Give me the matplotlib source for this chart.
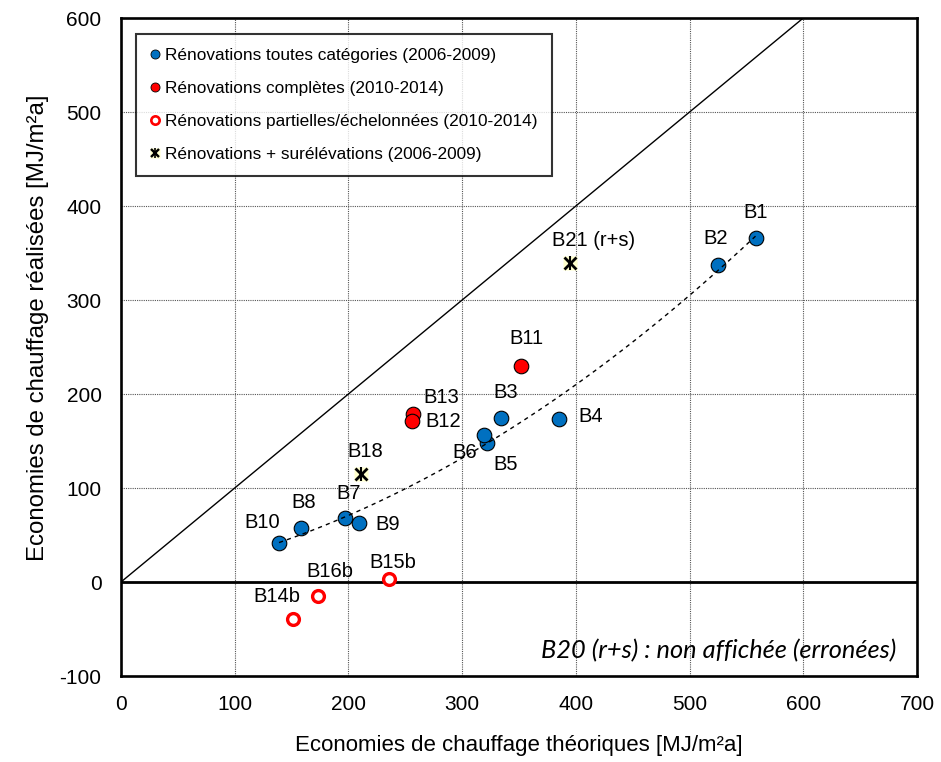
import numpy as np
import matplotlib
matplotlib.use("Agg")
import matplotlib.pyplot as plt
from matplotlib.lines import Line2D

# ---- data ----
blue_names = ["B1", "B2", "B3", "B4", "B5", "B6", "B7", "B8", "B9", "B10"]
blue_x = [558, 525, 334, 385, 322, 319, 197, 158, 209, 139]
blue_y = [366, 337, 174, 173, 148, 156, 68, 57, 63, 41]

red_names = ["B11", "B13", "B12"]
red_x = [352, 257, 256]
red_y = [230, 179, 171]

open_names = ["B15b", "B16b", "B14b"]
open_x = [236, 173, 151]
open_y = [3, -15, -39]

star_names = ["B21 (r+s)", "B18"]
star_x = [395, 211]
star_y = [339, 115]

legend_labels = [
    "Rénovations toutes catégories (2006-2009)",
    "Rénovations complètes (2010-2014)",
    "Rénovations partielles/échelonnées (2010-2014)",
    "Rénovations + surélévations (2006-2009)",
]
x_ticks = [0, 100, 200, 300, 400, 500, 600, 700]
y_ticks = [-100, 0, 100, 200, 300, 400, 500, 600]
note = "B20 (r+s) : non affichée (erronées)"

# label offsets in pixels (dx right, dy down)
label_off = {
    "B1": (0, -25), "B2": (-2, -27), "B3": (5, -26), "B4": (32, -3),
    "B5": (18, 22), "B6": (-19, 17), "B7": (4, -25), "B8": (3, -26),
    "B9": (29, 2), "B10": (-17, -21), "B11": (5, -27), "B13": (28, -16),
    "B12": (31, 0), "B15b": (3, -17), "B16b": (12, -25), "B14b": (-16, -22),
    "B21 (r+s)": (23, -23), "B18": (4, -22),
}

BLUE = "#0070C0"
RED = "#FF0000"
YEL = "#FFFFCC"
FONT = "Liberation Sans"
plt.rcParams["font.family"] = [FONT, "DejaVu Sans"]
plt.rcParams["axes.unicode_minus"] = False

fig = plt.figure(figsize=(9.41, 7.62), dpi=100)
ax = fig.add_axes([121 / 941, 1 - 676 / 762, (917 - 121) / 941, (676 - 18) / 762])
ax.set_xlim(0, 700)
ax.set_ylim(-100, 600)
ax.set_xticks(x_ticks)
ax.set_yticks(y_ticks)
ax.tick_params(length=0, labelsize=15, pad=14)
ax.grid(True, color="#555555", linestyle=(0, (1, 1)), linewidth=0.8)
ax.set_axisbelow(True)
for s in ax.spines.values():
    s.set_linewidth(1.9)

ax.axhline(0, color="black", linewidth=2.0, zorder=2)
ax.plot([0, 600], [0, 600], color="black", linewidth=1.0, zorder=2)

# trend (quadratic fit of blue points)
coef = np.polyfit(blue_x, blue_y, 2)
xx = np.linspace(min(blue_x), max(blue_x), 200)
ax.plot(xx, np.polyval(coef, xx), color="black", linestyle=(0, (3, 3)),
        linewidth=1.0, zorder=4)

ax.plot(blue_x, blue_y, "o", ms=10.5, mfc=BLUE, mec="black", mew=0.8,
        linestyle="none", zorder=3)
ax.plot(red_x, red_y, "o", ms=10.5, mfc=RED, mec="black", mew=0.8,
        linestyle="none", zorder=3)
ax.plot(open_x, open_y, "o", ms=8.5, mfc="white", mec=RED, mew=2.4,
        linestyle="none", zorder=3)
ax.plot(star_x, star_y, "s", ms=10.5, mfc=YEL, mec="none", linestyle="none", zorder=3)
ax.plot(star_x, star_y, "x", ms=9, mec="black", mew=2.0, linestyle="none", zorder=4)
ax.plot(star_x, star_y, "|", ms=10, mec="black", mew=1.5, linestyle="none", zorder=4)

k = 72 / 100
for names, xs, ys in [(blue_names, blue_x, blue_y), (red_names, red_x, red_y),
                      (open_names, open_x, open_y), (star_names, star_x, star_y)]:
    for n, x, y in zip(names, xs, ys):
        dx, dy = label_off[n]
        ax.annotate(n, (x, y), xytext=(dx * k, -dy * k), textcoords="offset points",
                    ha="center", va="center", fontsize=14.5, zorder=5)

ax.text(682, -73, note, ha="right", va="center", fontsize=18.3,
        family=["Lato", "DejaVu Sans"], style="italic")

ax.set_xlabel("Economies de chauffage théoriques [MJ/m²a]", fontsize=16, labelpad=15)
ax.set_ylabel("Economies de chauffage réalisées [MJ/m²a]", fontsize=17.3)
ax.yaxis.set_label_coords(-0.09, (676 - 328) / 658)

handles = [
    Line2D([], [], marker="o", ls="none", ms=6.5, mfc=BLUE, mec="black", mew=0.6),
    Line2D([], [], marker="o", ls="none", ms=6.5, mfc=RED, mec="black", mew=0.6),
    Line2D([], [], marker="o", ls="none", ms=6, mfc="white", mec=RED, mew=1.9),
    (Line2D([], [], marker="s", ls="none", ms=7.5, mfc=YEL, mec="none"),
     Line2D([], [], marker="x", ls="none", ms=5.5, mec="black", mew=1.7),
     Line2D([], [], marker="|", ls="none", ms=6.5, mec="black", mew=1.2)),
]
leg = ax.legend(handles, legend_labels, loc="upper left",
                bbox_to_anchor=((136 - 121) / 796, 1 - (34 - 18) / 658),
                fontsize=12.4, frameon=True, fancybox=False, borderpad=0.8,
                labelspacing=1.05, handlelength=0.6, handletextpad=0.3,
                borderaxespad=0)
leg.get_frame().set_edgecolor("black")
leg.get_frame().set_linewidth(1.5)
leg.set_zorder(6)

fig.savefig("out.png", dpi=100)
